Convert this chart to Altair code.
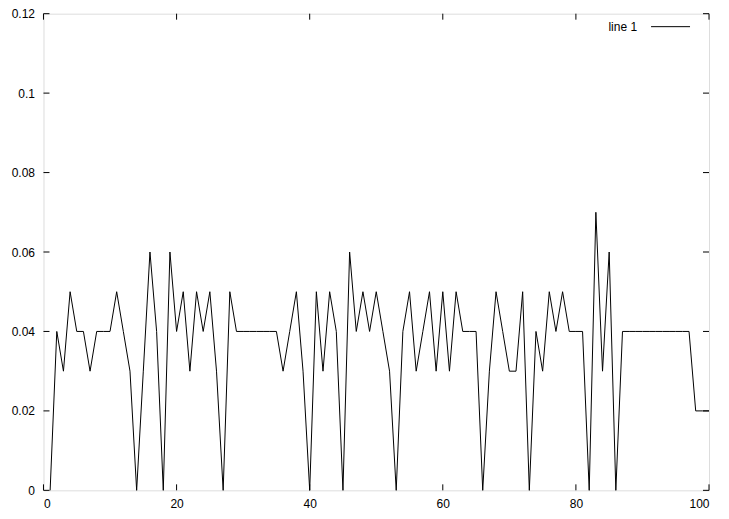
import altair as alt
import pandas as pd

xs = list(range(1, 101))
ys = [0, 0.04, 0.03, 0.05, 0.04, 0.04, 0.03, 0.04, 0.04, 0.04,
      0.05, 0.04, 0.03, 0, 0.03, 0.06, 0.04, 0, 0.06, 0.04,
      0.05, 0.03, 0.05, 0.04, 0.05, 0.03, 0, 0.05, 0.04, 0.04,
      0.04, 0.04, 0.04, 0.04, 0.04, 0.03, 0.04, 0.05, 0.03, 0,
      0.05, 0.03, 0.05, 0.04, 0, 0.06, 0.04, 0.05, 0.04, 0.05,
      0.04, 0.03, 0, 0.04, 0.05, 0.03, 0.04, 0.05, 0.03, 0.05,
      0.03, 0.05, 0.04, 0.04, 0.04, 0, 0.03, 0.05, 0.04, 0.03,
      0.03, 0.05, 0, 0.04, 0.03, 0.05, 0.04, 0.05, 0.04, 0.04,
      0.04, 0, 0.07, 0.03, 0.06, 0, 0.04, 0.04, 0.04, 0.04,
      0.04, 0.04, 0.04, 0.04, 0.04, 0.04, 0.04, 0.02, 0.02, 0.02]
x_ticks = [0, 20, 40, 60, 80, 100]
y_ticks = [0, 0.02, 0.04, 0.06, 0.08, 0.1, 0.12]
series_name = "line 1"

W, H = 666, 477
TICK = 6
FONT = "Liberation Sans"

df = pd.DataFrame({"x": xs, "y": ys})
xt = pd.DataFrame({"t": x_ticks})
yt = pd.DataFrame({"t": y_ticks})

xscale = alt.Scale(domain=[0, 100], nice=False, zero=False)
yscale = alt.Scale(domain=[0, 0.12], nice=False, zero=False)

xaxis = alt.Axis(values=x_ticks, title=None, grid=False, ticks=False, domain=False,
                 labelFont=FONT, labelFontSize=12, labelColor="black", labelPadding=8,
                 format="d")
yaxis = alt.Axis(values=y_ticks, title=None, grid=False, ticks=False, domain=False,
                 labelFont=FONT, labelFontSize=12, labelColor="black", labelPadding=9,
                 format="~g")

line = alt.Chart(df).mark_line(color="black", strokeWidth=1).encode(
    x=alt.X("x:Q", scale=xscale, axis=xaxis),
    y=alt.Y("y:Q", scale=yscale, axis=yaxis),
)

bt = alt.Chart(xt).mark_rule(color="black", strokeWidth=1).encode(
    x=alt.X("t:Q", scale=xscale), y=alt.value(H), y2=alt.value(H - TICK))
tt = alt.Chart(xt).mark_rule(color="black", strokeWidth=1).encode(
    x=alt.X("t:Q", scale=xscale), y=alt.value(0), y2=alt.value(TICK))
lt = alt.Chart(yt).mark_rule(color="black", strokeWidth=1).encode(
    y=alt.Y("t:Q", scale=yscale), x=alt.value(0), x2=alt.value(TICK))
rt = alt.Chart(yt).mark_rule(color="black", strokeWidth=1).encode(
    y=alt.Y("t:Q", scale=yscale), x=alt.value(W - TICK), x2=alt.value(W))

leg = pd.DataFrame({"name": [series_name]})
leg_text = alt.Chart(leg).mark_text(align="right", baseline="middle", font=FONT,
                                    fontSize=12, color="black").encode(
    text="name:N", x=alt.value(W - 72), y=alt.value(13))
leg_line = alt.Chart(leg).mark_rule(color="black", strokeWidth=1).encode(
    x=alt.value(W - 58), x2=alt.value(W - 19), y=alt.value(13))

chart = alt.layer(line, bt, tt, lt, rt, leg_text, leg_line).properties(
    width=W, height=H,
    autosize=alt.AutoSizeParams(type="none"),
    padding={"left": 35.5, "top": 5.5, "right": 12, "bottom": 25},
).configure_view(stroke="black", strokeWidth=1, strokeOpacity=1).configure(background="white")

chart.save("out.html", embed_options={"renderer": "svg", "actions": False})
